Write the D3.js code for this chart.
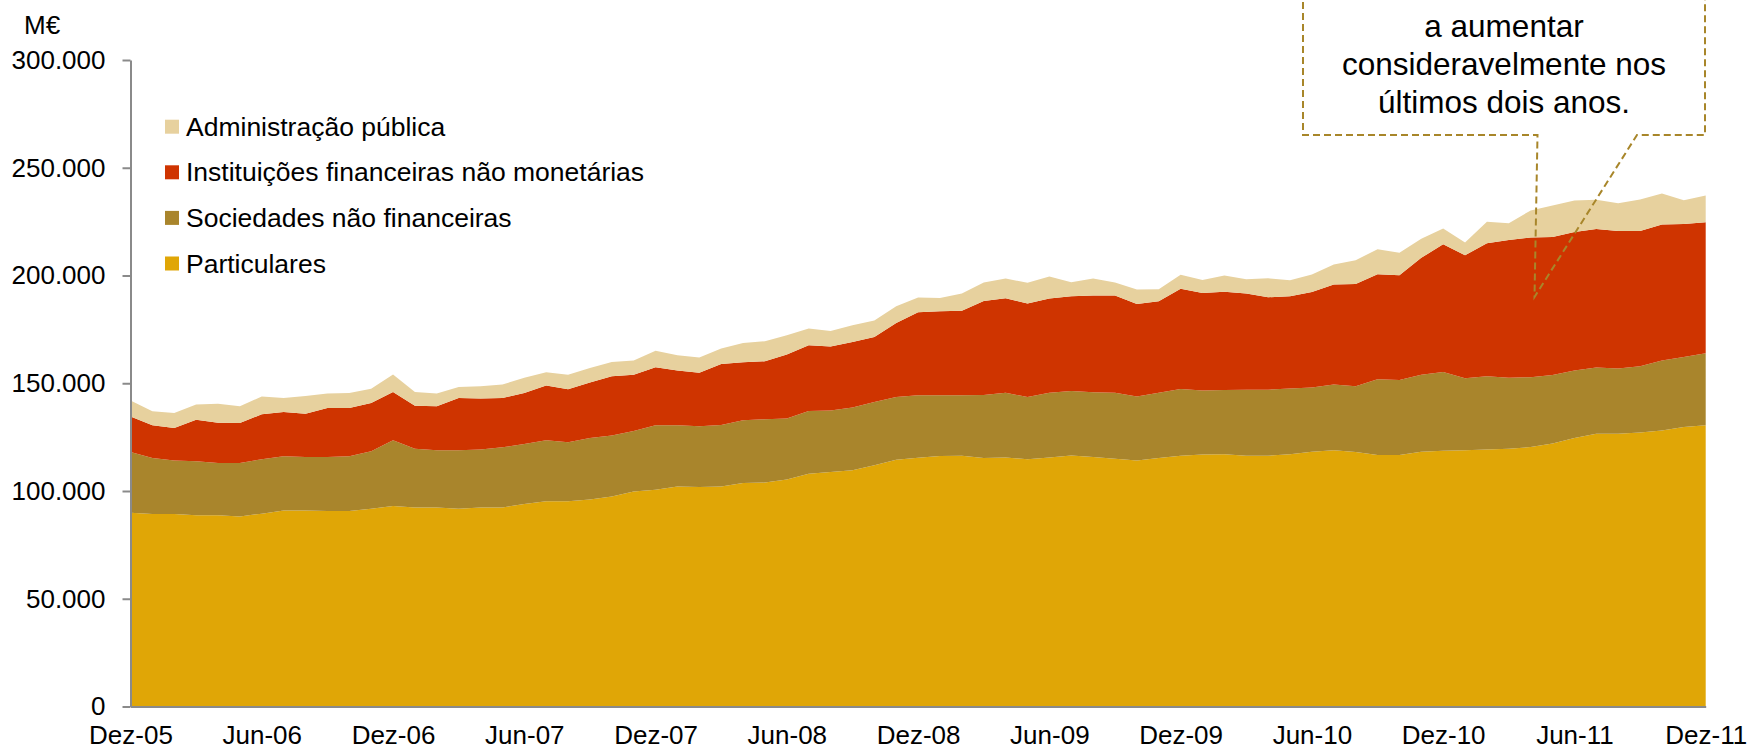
<!DOCTYPE html>
<html>
    <head>
        <meta charset="utf-8">
        <title>Crédito por setor</title>
        <script src="https://d3js.org/d3.v7.min.js"></script>
        <style>
            body {
                margin: 0;
                background: #fff;
            }
            svg text {
                font-family: 'Liberation Sans', Arial, sans-serif;
                fill: #000;
            }
            .axis path,
            .axis line {
                stroke: #8a8a8a;
                stroke-width: 2px;
            }
        </style>
    </head>
    <body>
        <div id="chart"></div>
        <script>
            // valores em M€, mensais de Dez-05 a Dez-11
            const particulares = [
                89900, 89300, 89300, 88700, 88700, 88200, 89500, 91000, 91000, 90700,
                90700, 91800, 93000, 92400, 92400, 91800, 92400, 92400, 94000, 95200,
                95300, 96100, 97500, 99800, 100600, 102100, 101800, 102100, 103700, 103900,
                105300, 108000, 108800, 109600, 111900, 114500, 115400, 116200, 116400, 115300,
                115600, 114700, 115600, 116500, 115800, 115000, 114100, 115300, 116400, 116900,
                117100, 116400, 116400, 117000, 118200, 118900, 118100, 116700, 116700, 118200,
                118700, 118900, 119300, 119600, 120400, 122100, 124600, 126600, 126600, 127200,
                128100, 129700, 130500
            ];
            const sociedades = [
                28200, 26000, 24900, 25100, 24300, 24800, 25200, 25100, 24800, 25100,
                25400, 26600, 30500, 27200, 26500, 27100, 26900, 27900, 27800, 28300,
                27300, 28500, 28300, 28000, 29900, 28400, 28300, 28500, 29100, 29400,
                28300, 29100, 28600, 29200, 29400, 29100, 29000, 28200, 28000, 29300,
                30000, 28900, 30000, 29900, 30000, 30600, 29800, 30300, 30900, 29700,
                29800, 30600, 30600, 30600, 29800, 30500, 30500, 35100, 34800, 35800,
                36500, 33400, 33900, 33000, 32400, 31700, 31300, 30700, 30200, 30700,
                32500, 32500, 33400
            ];
            const instituicoes = [
                16500, 15200, 15000, 19300, 18700, 18500, 20900, 20600, 20100, 22700,
                22400, 22400, 22400, 20000, 20400, 24200, 23600, 22800, 23700, 25400,
                24600, 25700, 27400, 26200, 26900, 25400, 24800, 28300, 26900, 26900,
                29700, 30500, 29600, 30300, 30200, 34400, 38500, 39000, 39300, 43600,
                43800, 43400, 43700, 44000, 44900, 45100, 42900, 42400, 46600, 45300,
                45600, 44600, 42900, 42800, 44400, 46400, 47500, 48800, 48600, 54200,
                59300, 57100, 61800, 63900, 64800, 64100, 64300, 64300, 63900, 62800,
                63100, 61700, 60800
            ];
            const administracao = [
                7400, 6500, 7000, 7000, 8800, 7800, 8300, 6400, 8200, 6700,
                7000, 6700, 8200, 6300, 5900, 5200, 5700, 6300, 7100, 6200,
                6800, 6800, 6700, 6600, 7700, 7100, 7100, 7200, 9000, 9300,
                9000, 7800, 7300, 7800, 7600, 7700, 6900, 6200, 7900, 8500,
                9200, 9600, 10200, 6500, 7900, 6000, 6700, 5600, 6500, 6000,
                7500, 6700, 8800, 7400, 8100, 9300, 11000, 11600, 10400, 8900,
                7300, 5900, 10000, 7800, 12600, 14600, 14600, 13500, 12800, 14600,
                14300, 11000, 12400
            ];
            const tickLabels = ['Dez-05', 'Jun-06', 'Dez-06', 'Jun-07', 'Dez-07', 'Jun-08', 'Dez-08', 'Jun-09', 'Dez-09', 'Jun-10', 'Dez-10', 'Jun-11', 'Dez-11'];
            const yTicks = [0, 50000, 100000, 150000, 200000, 250000, 300000];
            const keys = ['Particulares', 'Sociedades não financeiras', 'Instituições financeiras não monetárias', 'Administração pública'];
            const colors = ['#e0a606', '#a9852c', '#cf3400', '#e7d19e'];
            const noteLines = ['a aumentar', 'consideravelmente nos', 'últimos dois anos.'];

            const width = 1747,
                height = 750;

            const rows = particulares.map((d, i) => ({
                i: i,
                [keys[0]]: d,
                [keys[1]]: sociedades[i],
                [keys[2]]: instituicoes[i],
                [keys[3]]: administracao[i]
            }));

            const svg = d3.select('#chart').append('svg').attr('width', width).attr('height', height);

            const x = d3
                .scaleLinear()
                .domain([0, rows.length - 1])
                .range([130.5, 1705.7]);
            const y = d3.scaleLinear().domain([0, 300000]).range([706.5, 60]);

            const stack = d3.stack().keys(keys);
            const layers = stack(rows);

            const area = d3
                .area()
                .x((d) => x(d.data.i))
                .y0((d) => y(d[0]))
                .y1((d) => y(d[1]));

            svg.append('g')
                .selectAll('path')
                .data(layers)
                .enter()
                .append('path')
                .attr('d', area)
                .attr('fill', (d, i) => colors[i]);

            // eixos
            const fmt = (d) => d3.format(',')(d).replace(/,/g, '.');
            svg.append('g')
                .attr('class', 'axis')
                .attr('transform', 'translate(' + x(0) + ',0)')
                .call(d3.axisLeft(y).tickValues(yTicks).tickSize(8).tickSizeOuter(0).tickPadding(17).tickFormat(fmt))
                .selectAll('text')
                .style('font-size', '26px');

            svg.append('g')
                .attr('class', 'axis')
                .attr('transform', 'translate(0,' + y(0) + ')')
                .call(
                    d3
                        .axisBottom(x)
                        .tickValues(d3.range(0, rows.length, 6))
                        .tickSize(0)
                        .tickSizeOuter(0)
                        .tickPadding(19)
                        .tickFormat((d, i) => tickLabels[i])
                )
                .selectAll('text')
                .style('font-size', '26px');

            svg.selectAll('.axis .domain').attr('fill', 'none');

            svg.append('text').attr('x', 24).attr('y', 34).style('font-size', '26px').text('M€');

            // legenda (ordem inversa: topo primeiro)
            const legend = svg
                .append('g')
                .selectAll('g')
                .data(keys.slice().reverse())
                .enter()
                .append('g')
                .attr('transform', (d, i) => 'translate(165,' + (126.7 + i * 45.6) + ')');
            legend
                .append('rect')
                .attr('y', -7)
                .attr('width', 14)
                .attr('height', 14)
                .attr('fill', (d) => colors[keys.indexOf(d)]);
            legend
                .append('text')
                .attr('x', 21)
                .attr('y', 9)
                .style('font-size', '26.5px')
                .text((d) => d);

            // nota com ponteiro
            svg.append('path')
                .attr('d', 'M1303,-20V135H1537.5L1534.5,297L1637,135H1705V-20')
                .attr('fill', 'none')
                .attr('stroke', '#a8862a')
                .attr('stroke-width', 2)
                .attr('stroke-dasharray', '7,4');

            svg.append('g')
                .selectAll('text')
                .data(noteLines)
                .enter()
                .append('text')
                .attr('x', 1504)
                .attr('y', (d, i) => 37 + i * 38)
                .attr('text-anchor', 'middle')
                .style('font-size', '31.5px')
                .text((d) => d);
        </script>
    </body>
</html>
